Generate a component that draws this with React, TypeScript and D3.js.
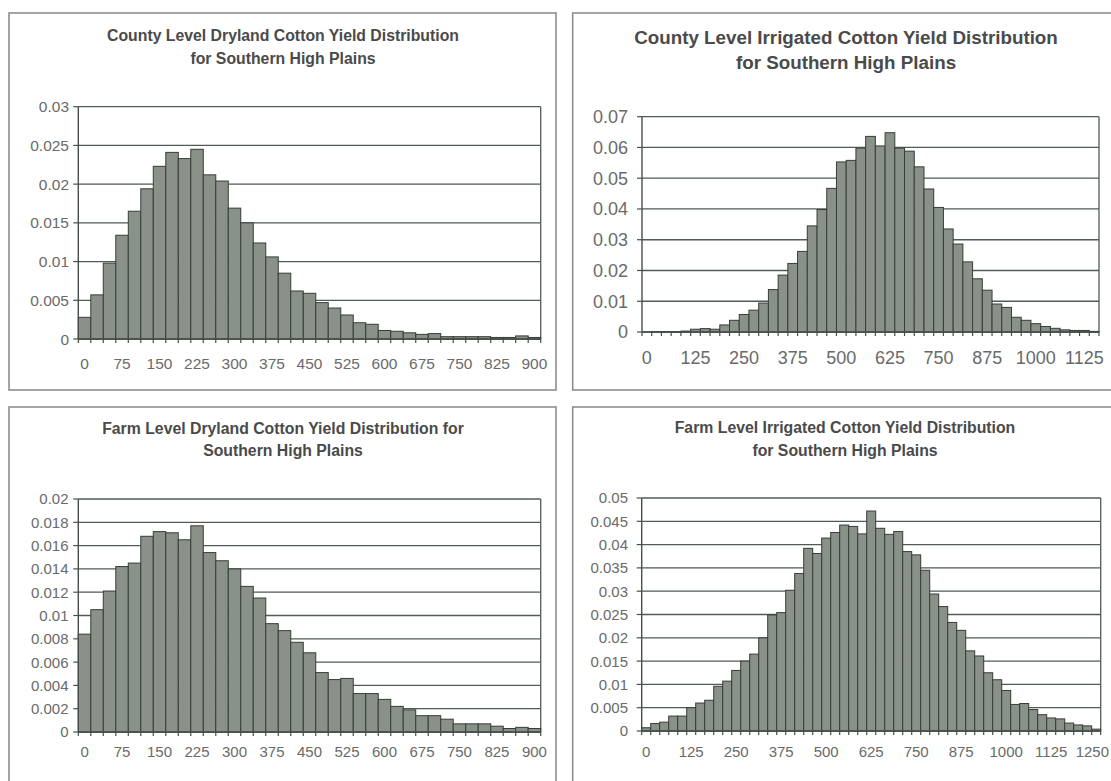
import * as d3 from 'd3'

// bin starts (25 lb/acre classes)
const dryBins = d3.range(0, 925, 25)
const countyIrrBins = d3.range(0, 1175, 25)
const farmIrrBins = d3.range(0, 1275, 25)

const countyDryland = [
  0.0028, 0.0057, 0.0098, 0.0134, 0.0165, 0.0194, 0.0223, 0.0241, 0.0233, 0.0245,
  0.0212, 0.0204, 0.0169, 0.015, 0.0124, 0.0106, 0.0085, 0.0062, 0.0059, 0.0047,
  0.004, 0.0031, 0.0021, 0.0019, 0.0011, 0.001, 0.0008, 0.0006, 0.0007, 0.0003,
  0.0003, 0.0003, 0.0003, 0.0002, 0.0002, 0.0004, 0.0002
]

const countyIrrigated = [
  0.0, 0.0001, 0.0001, 0.0001, 0.0003, 0.0009, 0.0011, 0.0009, 0.0023, 0.0038,
  0.0057, 0.0071, 0.0094, 0.0138, 0.0185, 0.0223, 0.0262, 0.0345, 0.0398, 0.0467,
  0.0553, 0.0558, 0.0598, 0.0636, 0.0605, 0.0648, 0.0598, 0.0588, 0.0537, 0.0465,
  0.0405, 0.0335, 0.0286, 0.0228, 0.0173, 0.0136, 0.0091, 0.008, 0.0048, 0.0038,
  0.0027, 0.0018, 0.0012, 0.0007, 0.0005, 0.0005, 0.0002
]

const farmDryland = [
  0.0084, 0.0105, 0.0121, 0.0142, 0.0145, 0.0168, 0.0172, 0.0171, 0.0165, 0.0177,
  0.0154, 0.0147, 0.014, 0.0125, 0.0115, 0.0093, 0.0087, 0.0077, 0.0068, 0.0051,
  0.0045, 0.0046, 0.0033, 0.0033, 0.0028, 0.0022, 0.0019, 0.0014, 0.0014, 0.0011,
  0.0007, 0.0007, 0.0007, 0.0005, 0.0003, 0.0004, 0.0003
]

const farmIrrigated = [
  0.0007, 0.0016, 0.0019, 0.0032, 0.0032, 0.005, 0.006, 0.0066, 0.0096, 0.0107,
  0.013, 0.015, 0.0165, 0.02, 0.0249, 0.0254, 0.0302, 0.0338, 0.0392, 0.0381,
  0.0414, 0.0426, 0.0442, 0.0439, 0.0423, 0.0472, 0.0435, 0.0422, 0.0428, 0.0385,
  0.0378, 0.0345, 0.0294, 0.0267, 0.0233, 0.0216, 0.0172, 0.0161, 0.0125, 0.011,
  0.0087, 0.0057, 0.0059, 0.0046, 0.0035, 0.0028, 0.0026, 0.0017, 0.0013, 0.0011,
  0.0004
]

const dryXLabels = ['0', '75', '150', '225', '300', '375', '450', '525', '600', '675', '750', '825', '900']
const countyIrrXLabels = ['0', '125', '250', '375', '500', '625', '750', '875', '1000', '1125']
const farmIrrXLabels = ['0', '125', '250', '375', '500', '625', '750', '875', '1000', '1125', '1250']

const countyDryTicks = [0, 0.005, 0.01, 0.015, 0.02, 0.025, 0.03]
const countyIrrTicks = [0, 0.01, 0.02, 0.03, 0.04, 0.05, 0.06, 0.07]
const farmDryTicks = [0, 0.002, 0.004, 0.006, 0.008, 0.01, 0.012, 0.014, 0.016, 0.018, 0.02]
const farmIrrTicks = [0, 0.005, 0.01, 0.015, 0.02, 0.025, 0.03, 0.035, 0.04, 0.045, 0.05]

const FONT = "'Liberation Sans', Arial, Helvetica, sans-serif"
const BAR_FILL = '#899189'
const BAR_STROKE = '#363e38'
const GRID = '#515b55'
const LABEL = '#6a6a6a'
const TITLE = '#4a4a4a'

interface PanelProps {
  box: [number, number, number, number]
  plot: { x0: number; x1: number; y0: number; y1: number }
  title: string[]
  titleX: number
  titleY: number
  titleGap: number
  titleSize: number
  bins: number[]
  values: number[]
  yTicks: number[]
  xLabels: string[]
  labelSize: number
  yLabelX: number
  xLabelY: number
  maxLabelX?: number
}

function Panel({
  box, plot, title, titleX, titleY, titleGap, titleSize, bins, values,
  yTicks, xLabels, labelSize, yLabelX, xLabelY, maxLabelX = 1e9
}: PanelProps) {
  const x = d3.scaleBand<string>()
    .domain(bins.map(String))
    .range([plot.x0, plot.x1])
    .paddingInner(0)
  const y = d3.scaleLinear()
    .domain([0, d3.max(yTicks) as number])
    .range([plot.y1, plot.y0])
  const bw = x.bandwidth()
  const fmt = (v: number) => String(+v.toFixed(4))

  // excel nudges the last label inward when it would spill past the edge
  const labelX = (l: string) => {
    const cx = (x(l) as number) + bw / 2
    const half = l.length * 0.556 * labelSize / 2
    return Math.min(cx, maxLabelX - half)
  }

  return (
    <g>
      <rect x={box[0]} y={box[1]} width={box[2] - box[0]} height={box[3] - box[1]}
        fill="#fff" stroke="#8e8e8e" strokeWidth={1.6} />

      {title.map((t, i) => (
        <text key={i} x={titleX} y={titleY + i * titleGap} textAnchor="middle"
          fontFamily={FONT} fontWeight="bold" fontSize={titleSize} fill={TITLE}>{t}</text>
      ))}

      {/* gridlines */}
      {yTicks.map(t => (
        <line key={'g' + t} x1={plot.x0} x2={plot.x1} y1={y(t)} y2={y(t)}
          stroke={GRID} strokeWidth={1.3} />
      ))}
      <line x1={plot.x1} x2={plot.x1} y1={plot.y0} y2={plot.y1} stroke={GRID} strokeWidth={1.3} />

      {/* bars */}
      {values.map((v, i) => (
        <rect key={i} x={x(String(bins[i]))} y={y(v)} width={bw} height={plot.y1 - y(v)}
          fill={BAR_FILL} stroke={BAR_STROKE} strokeWidth={1} />
      ))}

      {/* axes */}
      <line x1={plot.x0} x2={plot.x0} y1={plot.y0} y2={plot.y1} stroke="#465048" strokeWidth={1.4} />
      <line x1={plot.x0} x2={plot.x1} y1={plot.y1} y2={plot.y1} stroke="#465048" strokeWidth={1.4} />
      {yTicks.map(t => (
        <g key={'y' + t}>
          <line x1={plot.x0 - 5} x2={plot.x0} y1={y(t)} y2={y(t)} stroke="#465048" strokeWidth={1.2} />
          <text x={yLabelX} y={y(t)} dy="0.36em" textAnchor="end"
            fontFamily={FONT} fontSize={labelSize} fill={LABEL}>{fmt(t)}</text>
        </g>
      ))}
      {d3.range(bins.length + 1).map(i => (
        <line key={'t' + i} x1={plot.x0 + i * bw} x2={plot.x0 + i * bw}
          y1={plot.y1} y2={plot.y1 + 4} stroke="#465048" strokeWidth={1.2} />
      ))}
      {xLabels.map(l => (
        <text key={'x' + l} x={labelX(l)} y={xLabelY} dy="0.36em" textAnchor="middle"
          fontFamily={FONT} fontSize={labelSize} fill={LABEL}>{l}</text>
      ))}
    </g>
  )
}

export default function App() {
  return (
    <svg width={1111} height={781} style={{ position: 'fixed', left: 0, top: 0, background: '#fff' }}>
      <Panel
        box={[9, 13, 556, 390]}
        plot={{ x0: 78.3, x1: 540.7, y0: 106.7, y1: 339 }}
        title={['County Level Dryland Cotton Yield Distribution', 'for Southern High Plains']}
        titleX={283} titleY={41} titleGap={22.5} titleSize={15.8}
        bins={dryBins} values={countyDryland}
        yTicks={countyDryTicks} xLabels={dryXLabels}
        labelSize={15.5} yLabelX={69} xLabelY={363}
      />
      <Panel
        box={[572.7, 13, 1125, 390]}
        plot={{ x0: 642, x1: 1099, y0: 116.7, y1: 332 }}
        title={['County Level Irrigated Cotton Yield Distribution', 'for Southern High Plains']}
        titleX={846} titleY={43.5} titleGap={25} titleSize={18.8}
        bins={countyIrrBins} values={countyIrrigated}
        yTicks={countyIrrTicks} xLabels={countyIrrXLabels}
        labelSize={18} yLabelX={628} xLabelY={358}
      />
      <Panel
        box={[9, 407, 556, 800]}
        plot={{ x0: 78.3, x1: 540.7, y0: 499, y1: 732 }}
        title={['Farm Level Dryland Cotton Yield Distribution for', 'Southern High Plains']}
        titleX={283} titleY={433.5} titleGap={22.5} titleSize={15.8}
        bins={dryBins} values={farmDryland}
        yTicks={farmDryTicks} xLabels={dryXLabels}
        labelSize={15} yLabelX={68.5} xLabelY={752}
      />
      <Panel
        box={[572.7, 407, 1125, 800]}
        plot={{ x0: 641.7, x1: 1100.7, y0: 498, y1: 731 }}
        title={['Farm Level Irrigated Cotton Yield Distribution', 'for Southern High Plains']}
        titleX={845} titleY={433} titleGap={22.5} titleSize={15.8}
        bins={farmIrrBins} values={farmIrrigated}
        yTicks={farmIrrTicks} xLabels={farmIrrXLabels}
        labelSize={15} yLabelX={628} xLabelY={752} maxLabelX={1109}
      />
    </svg>
  )
}
